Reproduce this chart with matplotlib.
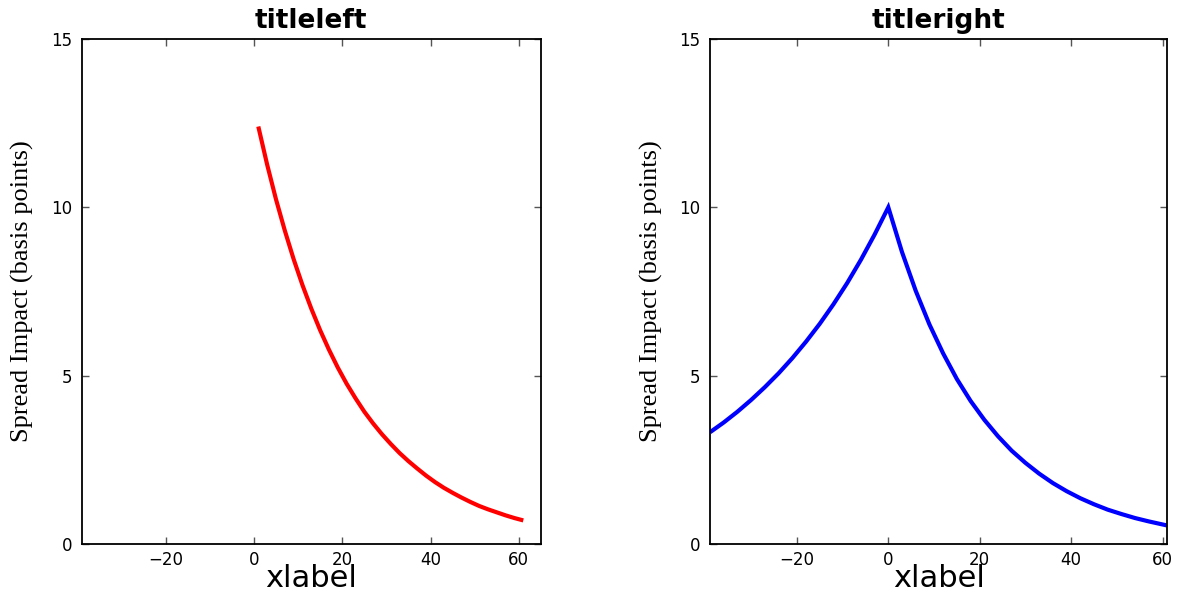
import matplotlib
matplotlib.use("Agg")
import matplotlib.pyplot as plt

# Left panel data
left_x = [1, 3, 5, 7, 9, 11, 13, 15, 17, 19, 21, 23, 25, 27, 29, 31, 33, 35, 37, 39,
          41, 43, 45, 47, 49, 51, 53, 55, 57, 59, 61]
left_y = [12.40, 11.27, 10.24, 9.31, 8.46, 7.69, 6.99, 6.35, 5.77, 5.24, 4.76, 4.33,
          3.93, 3.58, 3.26, 2.97, 2.70, 2.46, 2.24, 2.03, 1.84, 1.67, 1.52, 1.38, 1.25,
          1.13, 1.03, 0.94, 0.85, 0.77, 0.70]

# Right panel data
right_x = [-39, -36, -33, -30, -27, -24, -21, -18, -15, -12, -9, -6, -3, 0,
           3, 6, 9, 12, 15, 18, 21, 24, 27, 30, 33, 36, 39, 42, 45, 48, 51, 54, 57, 61]
right_y = [3.32, 3.61, 3.93, 4.28, 4.66, 5.07, 5.52, 6.01, 6.54, 7.12, 7.75, 8.44, 9.19, 10.0,
           8.67, 7.52, 6.52, 5.66, 4.90, 4.25, 3.69, 3.20, 2.77, 2.41, 2.09, 1.81, 1.57,
           1.36, 1.18, 1.02, 0.89, 0.77, 0.67, 0.55]

x_ticks = [-20, 0, 20, 40, 60]
y_ticks = [0, 5, 10, 15]
titles = ["titleleft", "titleright"]
xlabel = "xlabel"
ylabel = "Spread Impact (basis points)"

fig = plt.figure(figsize=(11.85, 5.94), dpi=100)
ax1 = fig.add_axes([0.0689, 0.0842, 0.3876, 0.8502])
ax2 = fig.add_axes([0.5992, 0.0842, 0.3857, 0.8502])

ax1.plot(left_x, left_y, color="#ff0000", linewidth=3, solid_capstyle="butt")
ax2.plot(right_x, right_y, color="#0000ff", linewidth=3, solid_capstyle="butt",
         solid_joinstyle="miter")
ax1.set_xlim(-39, 65)
ax2.set_xlim(-39, 61)

sans = "DejaVu Sans"
for ax, t in zip([ax1, ax2], titles):
    ax.set_ylim(0, 15)
    ax.set_xticks(x_ticks)
    ax.set_yticks(y_ticks)
    ax.tick_params(direction="in", length=5, width=1, color="#555555",
                   top=True, right=True, labelsize=12, pad=5)
    ax.tick_params(axis="y", pad=7)
    for lab in ax.get_xticklabels() + ax.get_yticklabels():
        lab.set_fontfamily(sans)
    for sp in ax.spines.values():
        sp.set_linewidth(1.3)
        sp.set_color("black")
    ax.set_title(t, fontsize=19, fontfamily=sans, fontweight="bold", pad=8)
    ax.set_xlabel(xlabel, fontsize=22, fontfamily=sans, va="center")
    ax.xaxis.set_label_coords(0.5, -0.068)
    ax.set_ylabel(ylabel, fontsize=19, fontfamily="Liberation Serif", labelpad=12)

fig.savefig("out.png", dpi=100)
